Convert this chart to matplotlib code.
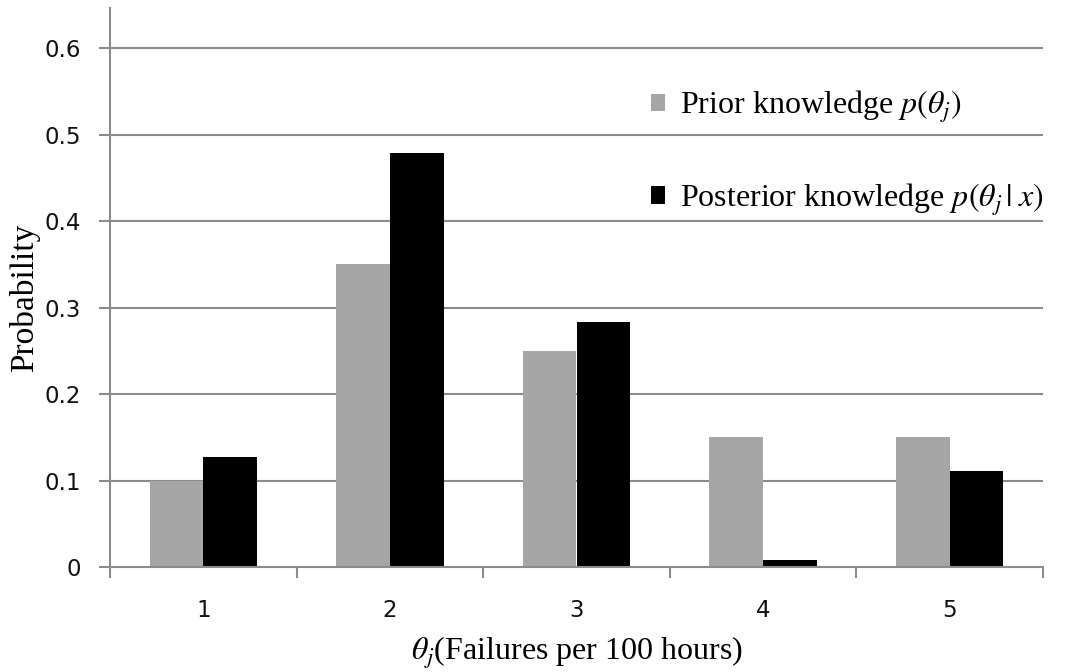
import matplotlib
matplotlib.use("Agg")
import matplotlib.pyplot as plt
import numpy as np

categories = ["1", "2", "3", "4", "5"]
prior = [0.10, 0.35, 0.25, 0.15, 0.15]
posterior = [0.127, 0.479, 0.283, 0.008, 0.111]

plt.rcParams['mathtext.fontset'] = 'stix'
serif = ['Liberation Serif', 'DejaVu Serif']

fig = plt.figure(figsize=(10.83, 6.72), dpi=100)
ax = fig.add_axes([110/1083, 1-567/672, (1043-110)/1083, (567-8)/672])

x = np.arange(1, len(categories)+1)
w = 0.288
gray = '#A6A6A6'
ax.bar(x - w/2, prior, width=w, color=gray, zorder=3, label=r'Prior knowledge $p(\theta_j)$')
ax.bar(x + w/2, posterior, width=w, color='black', zorder=3, label=r'Posterior knowledge $p(\theta_j\,|\;x)$')

ax.set_xlim(0.5, 5.5)
ax.set_ylim(0, 0.6465)
ax.set_yticks([0, 0.1, 0.2, 0.3, 0.4, 0.5, 0.6])
ax.set_yticklabels(["0", "0.1", "0.2", "0.3", "0.4", "0.5", "0.6"])
ax.set_xticks(x)
ax.set_xticklabels(categories)
ax.set_xticks(np.arange(0.5, 5.6, 1.0), minor=True)

gc = '#8C8C8C'
for yv in [0.1, 0.2, 0.3, 0.4, 0.5, 0.6]:
    ax.axhline(yv, color=gc, lw=1.5, zorder=1)
for s in ['top', 'right']:
    ax.spines[s].set_visible(False)
for s in ['left', 'bottom']:
    ax.spines[s].set_color(gc)
    ax.spines[s].set_linewidth(1.5)
ax.spines['bottom'].set_zorder(4)

ax.tick_params(axis='y', direction='out', length=8, width=1.5, color=gc, pad=13,
               labelsize=16.5, labelcolor='#111111')
ax.tick_params(axis='x', which='major', length=0, pad=23, labelsize=16.5, labelcolor='#111111')
ax.tick_params(axis='x', which='minor', direction='out', length=8, width=1.5, color=gc)
for lab in ax.get_xticklabels() + ax.get_yticklabels():
    lab.set_family('DejaVu Sans')

ax.set_ylabel('Probability', family=serif, fontsize=24)
ax.yaxis.set_label_coords(-0.075, 0.482)
ax.set_xlabel(r'$\theta_j$(Failures per 100 hours)', family=serif, fontsize=23, labelpad=9)

leg = ax.legend(loc='upper left', bbox_to_anchor=(651/1083, 1-89/672), bbox_transform=fig.transFigure,
                frameon=False, prop={'family': serif, 'size': 23},
                handlelength=0.45, handleheight=0.45, handletextpad=0.45,
                labelspacing=1.75, borderpad=0, borderaxespad=0)

fig.savefig('out.png', dpi=100, facecolor='white')
